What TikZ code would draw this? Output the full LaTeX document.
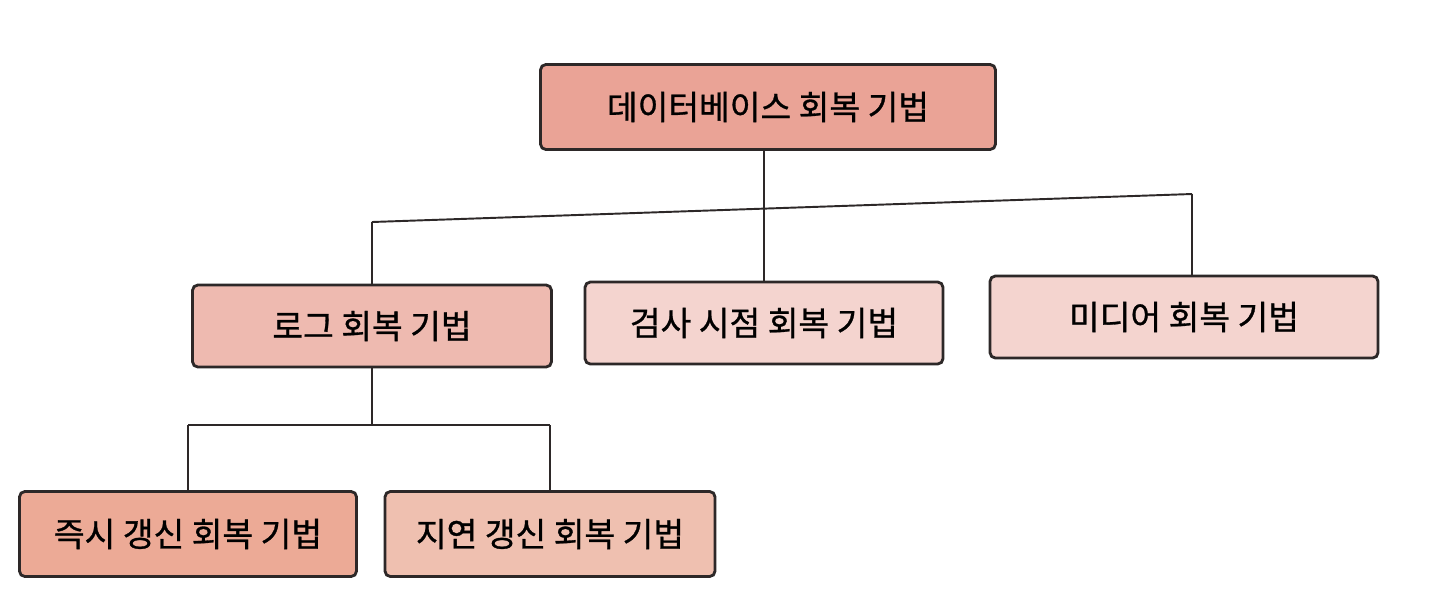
\documentclass[tikz,border=0pt]{standalone}
\usepackage{fontspec}
\newfontfamily\kr[FakeBold=0.9]{Noto Sans CJK KR}
\definecolor{rootfill}{RGB}{234,163,150}
\definecolor{logfill}{RGB}{238,186,176}
\definecolor{lightfill}{RGB}{244,212,207}
\definecolor{immfill}{RGB}{236,170,150}
\definecolor{deffill}{RGB}{239,192,176}
\definecolor{edge}{RGB}{45,40,40}
\tikzset{
  box/.style={draw=edge, line width=1.6pt, rounded corners=3pt, inner sep=0pt,
    font=\kr\fontsize{19}{22}\selectfont, text=black},
  conn/.style={draw=edge, line width=1.1pt}
}
\begin{document}
\begin{tikzpicture}[x=0.02cm,y=-0.02cm]
\useasboundingbox[fill=white] (0,0) rectangle (1442,610);
\node[box, fill=rootfill, minimum width=9.1cm, minimum height=1.7cm] (root) at (768,107) {데이터베이스 회복 기법};
\node[box, fill=logfill, minimum width=7.18cm, minimum height=1.64cm] (log) at (372,326) {로그 회복 기법};
\node[box, fill=lightfill, minimum width=7.16cm, minimum height=1.64cm] (chk) at (764,323) {검사 시점 회복 기법};
\node[box, fill=lightfill, minimum width=7.76cm, minimum height=1.64cm] (med) at (1184,317) {미디어 회복 기법};
\node[box, fill=immfill, minimum width=6.74cm, minimum height=1.7cm] (imm) at (188,534) {즉시 갱신 회복 기법};
\node[box, fill=deffill, minimum width=6.6cm, minimum height=1.7cm] (def) at (550,534) {지연 갱신 회복 기법};
\coordinate (bl) at (372,222);
\coordinate (br) at (1192,194);
\coordinate (lm) at (372,425);
\coordinate (ll) at (188,425);
\coordinate (lr) at (550,425);
\draw[conn] (bl) -- (br);
\draw[conn] (root.south -| chk.north) -- (chk.north);
\draw[conn] (bl) -- (log.north);
\draw[conn] (br) -- (br |- med.north);
\draw[conn] (log.south) -- (lm);
\draw[conn] (ll) -- (lr);
\draw[conn] (ll) -- (imm.north);
\draw[conn] (lr) -- (def.north);
\end{tikzpicture}
\end{document}
